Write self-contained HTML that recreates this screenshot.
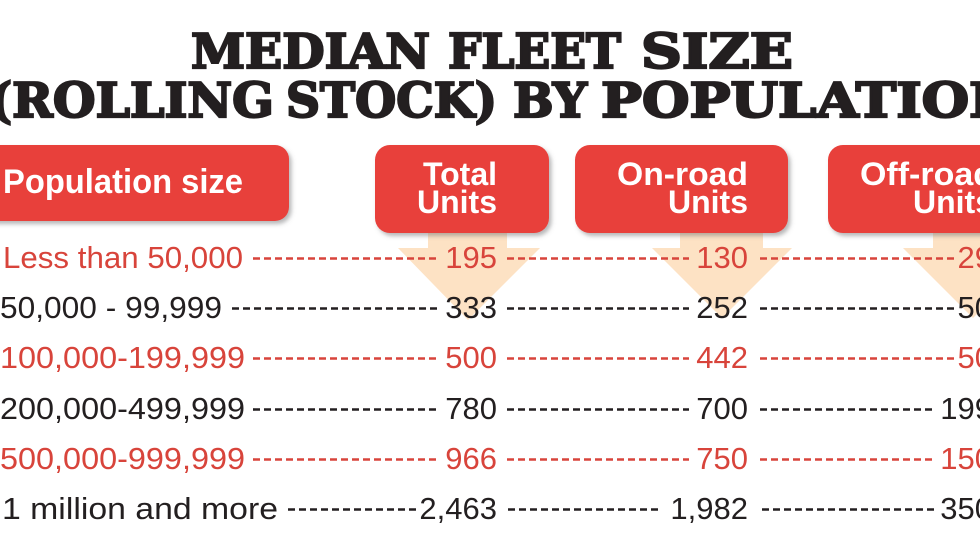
<!DOCTYPE html>
<html>
<head>
<meta charset="utf-8">
<style>
  html, body { margin: 0; padding: 0; background: #ffffff; }
  body { width: 980px; height: 552px; overflow: hidden; }
  svg { display: block; }
  .title { font-family: "DejaVu Serif", "Liberation Serif", serif; font-weight: bold; font-size: 48px; fill: #231f20; stroke: #231f20; stroke-width: 2.2px; stroke-linejoin: miter; }
  .hdr { font-family: "Liberation Sans", sans-serif; font-weight: bold; fill: #ffffff; }
  .lbl { font-family: "Liberation Sans", sans-serif; font-size: 31px; }
  .red { fill: #d8443b; }
  .blk { fill: #231f20; }
</style>
</head>
<body>
<svg width="980" height="552" viewBox="0 0 980 552" xmlns="http://www.w3.org/2000/svg">
  <defs>
    <filter id="sh" x="-10%" y="-10%" width="130%" height="140%">
      <feDropShadow dx="2.5" dy="3" stdDeviation="2" flood-color="#6d6e71" flood-opacity="0.5"/>
    </filter>
  </defs>
  <rect x="0" y="0" width="980" height="552" fill="#ffffff"/>

  <!-- Title -->
  <text class="title" x="191" y="68" textLength="239" lengthAdjust="spacingAndGlyphs">MEDIAN</text>
  <text class="title" x="448" y="68" textLength="173" lengthAdjust="spacingAndGlyphs">FLEET</text>
  <text class="title" x="641" y="68" textLength="152" lengthAdjust="spacingAndGlyphs">SIZE</text>
  <text class="title" x="-11" y="117" textLength="285" lengthAdjust="spacingAndGlyphs">(ROLLING</text>
  <text class="title" x="286" y="117" textLength="211" lengthAdjust="spacingAndGlyphs">STOCK)</text>
  <text class="title" x="513" y="117" textLength="74" lengthAdjust="spacingAndGlyphs">BY</text>
  <text class="title" x="601" y="117" textLength="418" lengthAdjust="spacingAndGlyphs">POPULATION</text>

  <!-- Arrows -->
  <g fill="#fde2c4">
    <polygon points="428,228 507,228 507,248 540,248 468,320 398,248 428,248"/>
    <polygon points="680,228 763,228 763,248 792,248 722,318 652,248 680,248"/>
    <polygon points="933,228 1013,228 1013,248 1043,248 973,318 903,248 933,248"/>
  </g>

  <!-- Header boxes -->
  <g fill="#e8403a" filter="url(#sh)">
    <rect x="-30" y="145" width="319" height="76" rx="14" ry="14"/>
    <rect x="375" y="145" width="174" height="88" rx="15" ry="15"/>
    <rect x="575" y="145" width="213" height="88" rx="15" ry="15"/>
    <rect x="828" y="145" width="200" height="88" rx="15" ry="15"/>
  </g>

  <text class="hdr" x="3" y="193" font-size="34" textLength="240" lengthAdjust="spacingAndGlyphs">Population size</text>
  <text class="hdr" x="497" y="185" font-size="32" text-anchor="end">Total</text>
  <text class="hdr" x="497" y="213" font-size="32" text-anchor="end">Units</text>
  <text class="hdr" x="617" y="185" font-size="32" textLength="131" lengthAdjust="spacingAndGlyphs">On-road</text>
  <text class="hdr" x="748" y="213" font-size="32" text-anchor="end">Units</text>
  <text class="hdr" x="860" y="185" font-size="32" textLength="134" lengthAdjust="spacingAndGlyphs">Off-road</text>
  <text class="hdr" x="993" y="213" font-size="32" text-anchor="end">Units</text>

  <!-- Dashes -->
  <g stroke-width="2.6" stroke-dasharray="7 4" fill="none">
    <g stroke="#d8443b">
      <line x1="253" y1="258.5" x2="437" y2="258.5"/>
      <line x1="507" y1="258.5" x2="689" y2="258.5"/>
      <line x1="760" y1="258.5" x2="954" y2="258.5"/>
      <line x1="253" y1="358.5" x2="437" y2="358.5"/>
      <line x1="507" y1="358.5" x2="689" y2="358.5"/>
      <line x1="760" y1="358.5" x2="954" y2="358.5"/>
      <line x1="253" y1="459.5" x2="437" y2="459.5"/>
      <line x1="507" y1="459.5" x2="689" y2="459.5"/>
      <line x1="760" y1="459.5" x2="932" y2="459.5"/>
    </g>
    <g stroke="#231f20">
      <line x1="232" y1="308.5" x2="437" y2="308.5"/>
      <line x1="507" y1="308.5" x2="689" y2="308.5"/>
      <line x1="760" y1="308.5" x2="954" y2="308.5"/>
      <line x1="253" y1="409.5" x2="437" y2="409.5"/>
      <line x1="507" y1="409.5" x2="689" y2="409.5"/>
      <line x1="760" y1="409.5" x2="932" y2="409.5"/>
      <line x1="288" y1="509.5" x2="417" y2="509.5"/>
      <line x1="508" y1="509.5" x2="659" y2="509.5"/>
      <line x1="762" y1="509.5" x2="934" y2="509.5"/>
    </g>
  </g>

  <!-- Row labels -->
  <text class="lbl red" x="3" y="268" textLength="240" lengthAdjust="spacingAndGlyphs">Less than 50,000</text>
  <text class="lbl blk" x="0" y="318" textLength="222" lengthAdjust="spacingAndGlyphs">50,000 - 99,999</text>
  <text class="lbl red" x="0" y="368" textLength="245" lengthAdjust="spacingAndGlyphs">100,000-199,999</text>
  <text class="lbl blk" x="0" y="419" textLength="245" lengthAdjust="spacingAndGlyphs">200,000-499,999</text>
  <text class="lbl red" x="0" y="469" textLength="245" lengthAdjust="spacingAndGlyphs">500,000-999,999</text>
  <text class="lbl blk" x="2" y="519" textLength="276" lengthAdjust="spacingAndGlyphs">1 million and more</text>

  <!-- Values -->
  <g text-anchor="end">
    <text class="lbl red" x="497" y="268">195</text>
    <text class="lbl blk" x="497" y="318">333</text>
    <text class="lbl red" x="497" y="368">500</text>
    <text class="lbl blk" x="497" y="419">780</text>
    <text class="lbl red" x="497" y="469">966</text>
    <text class="lbl blk" x="497" y="519">2,463</text>

    <text class="lbl red" x="748" y="268">130</text>
    <text class="lbl blk" x="748" y="318">252</text>
    <text class="lbl red" x="748" y="368">442</text>
    <text class="lbl blk" x="748" y="419">700</text>
    <text class="lbl red" x="748" y="469">750</text>
    <text class="lbl blk" x="748" y="519">1,982</text>

    <text class="lbl red" x="992" y="268">29</text>
    <text class="lbl blk" x="992" y="318">50</text>
    <text class="lbl red" x="992" y="368">50</text>
    <text class="lbl blk" x="992" y="419">199</text>
    <text class="lbl red" x="992" y="469">150</text>
    <text class="lbl blk" x="992" y="519">350</text>
  </g>
</svg>
</body>
</html>
